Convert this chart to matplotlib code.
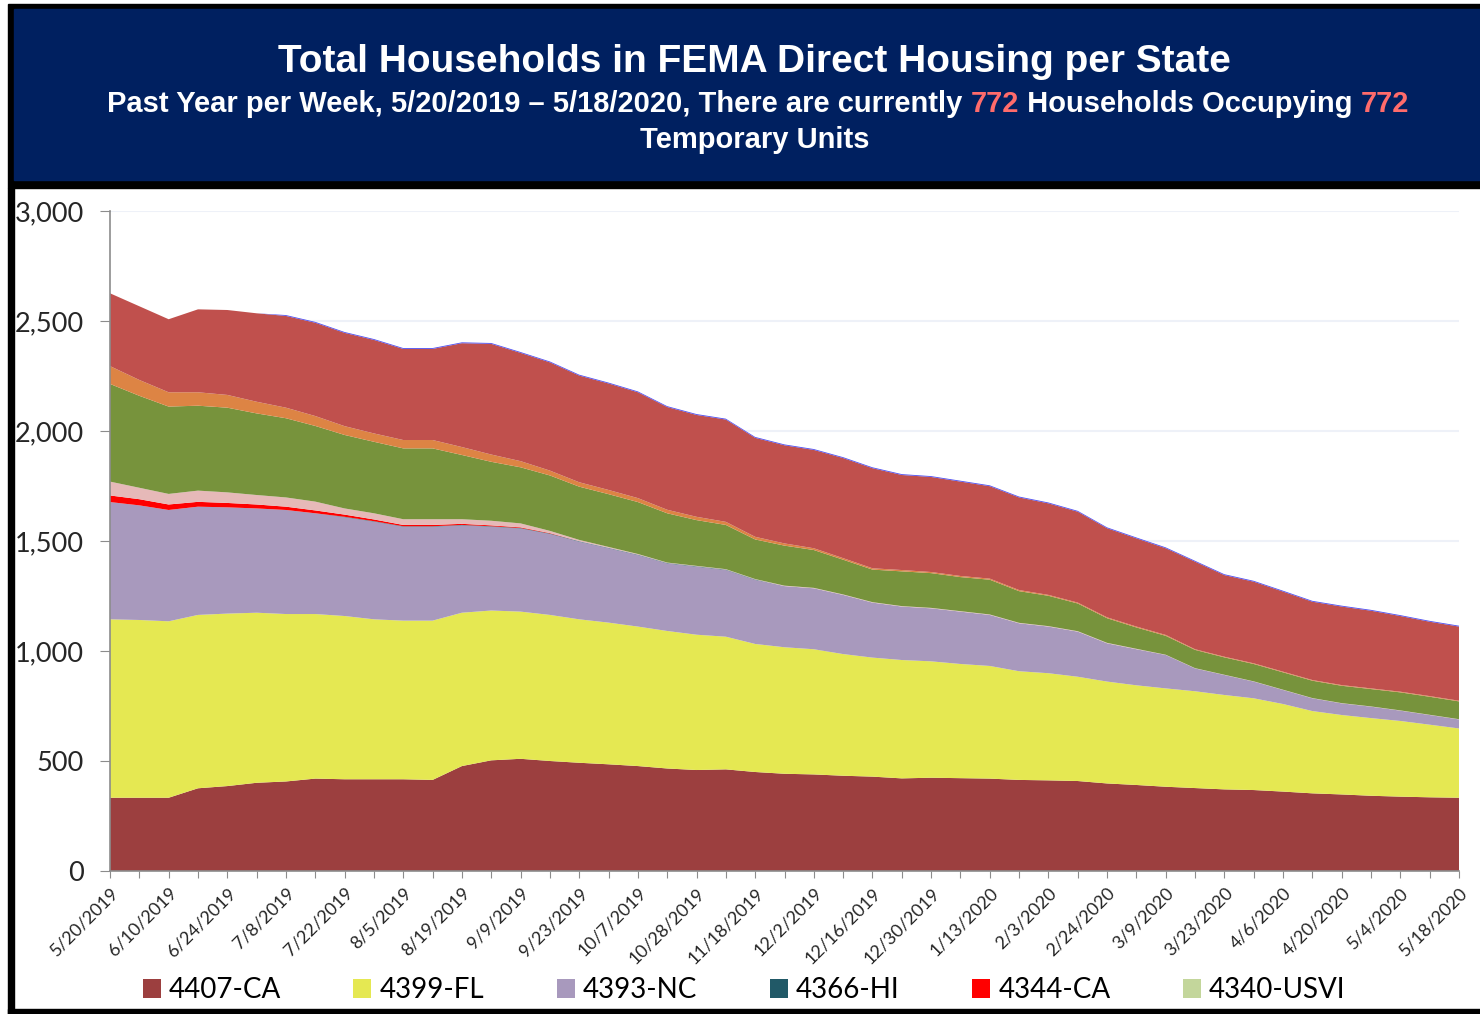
import numpy as np
import matplotlib
matplotlib.use("Agg")
import matplotlib.pyplot as plt
from matplotlib.patches import Rectangle, Patch
from matplotlib.ticker import FuncFormatter

# weekly report dates (one label every other week is shown)
dates = ['5/20/2019', '6/3/2019', '6/10/2019', '6/17/2019', '6/24/2019', '7/1/2019',
         '7/8/2019', '7/15/2019', '7/22/2019', '7/29/2019', '8/5/2019', '8/12/2019',
         '8/19/2019', '9/2/2019', '9/9/2019', '9/16/2019', '9/23/2019', '9/30/2019',
         '10/7/2019', '10/21/2019', '10/28/2019', '11/11/2019', '11/18/2019', '11/25/2019',
         '12/2/2019', '12/9/2019', '12/16/2019', '12/23/2019', '12/30/2019', '1/6/2020',
         '1/13/2020', '1/27/2020', '2/3/2020', '2/17/2020', '2/24/2020', '3/2/2020',
         '3/9/2020', '3/16/2020', '3/23/2020', '3/30/2020', '4/6/2020', '4/13/2020',
         '4/20/2020', '4/27/2020', '5/4/2020', '5/11/2020', '5/18/2020']

ca4407 = [333, 333, 333, 376, 386, 401, 407, 420, 417, 417, 417, 414, 477, 503, 510, 500,
          492, 485, 477, 466, 459, 462, 450, 442, 439, 433, 429, 421, 424, 422, 420, 414,
          412, 409, 398, 391, 383, 377, 371, 368, 361, 353, 348, 342, 338, 335, 333]
fl4399 = [811, 808, 802, 788, 784, 773, 761, 748, 742, 727, 721, 724, 697, 681, 669, 664,
          652, 644, 634, 625, 615, 603, 582, 575, 569, 553, 541, 538, 529, 519, 512, 494,
          487, 474, 463, 453, 447, 440, 429, 417, 398, 374, 361, 353, 344, 330, 315]
nc4393 = [533, 521, 506, 492, 483, 474, 473, 458, 449, 444, 427, 427, 397, 381, 378, 368,
          353, 338, 325, 307, 309, 303, 291, 278, 277, 269, 250, 243, 241, 238, 232, 218,
          212, 205, 174, 164, 152, 104, 91, 76, 64, 58, 53, 52, 47, 44, 41]
hi4366 = [0, 0, 0, 0, 0, 0, 0, 0, 2, 2, 2, 2, 2, 2, 2, 2, 2, 2, 2, 2, 2, 2, 2, 0,
          0, 0, 0, 0, 0, 0, 0, 0, 0, 0, 0, 0, 0, 0, 0, 0, 0, 0, 0, 0, 0, 0, 0]
ca4344 = [30, 28, 25, 22, 20, 18, 15, 13, 10, 8, 6, 6, 5, 4, 3, 2, 0, 0, 0, 0, 0, 0, 0, 0,
          0, 0, 0, 0, 0, 0, 0, 0, 0, 0, 0, 0, 0, 0, 0, 0, 0, 0, 0, 0, 0, 0, 0]
usvi4340 = [0] * 47
# series beyond the visible legend entries
pink_s = [63, 52, 48, 51, 48, 43, 42, 40, 28, 28, 26, 26, 21, 21, 18, 10, 6, 4, 3, 2,
          2, 2, 2, 2, 2, 2, 2, 2, 2, 2, 2, 2, 2, 2, 2, 2, 1, 1, 1, 1, 1, 1, 1, 1, 1, 1, 1]
green_s = [444, 418, 397, 386, 385, 371, 360, 344, 334, 325, 322, 322, 292, 268, 255, 252,
           242, 240, 236, 224, 208, 201, 180, 182, 172, 158, 148, 158, 158, 155, 158, 144,
           138, 126, 112, 97, 86, 83, 79, 79, 79, 79, 79, 79, 82, 82, 81]
orange_s = [81, 72, 65, 61, 58, 53, 48, 45, 40, 38, 38, 38, 36, 33, 28, 22, 20, 19, 18, 16,
            15, 14, 12, 10, 8, 7, 6, 6, 5, 5, 5, 5, 4, 4, 4, 4, 4, 3, 3, 3, 3, 3, 3, 3, 3, 3, 3]
red_s = [331, 335, 332, 377, 386, 402, 417, 424, 424, 425, 414, 414, 472, 503, 492, 492,
         485, 484, 481, 467, 463, 465, 450, 446, 447, 455, 455, 432, 432, 429, 420, 421,
         416, 413, 405, 401, 394, 398, 371, 371, 364, 356, 357, 353, 344, 338, 337]
blue_s = [0] * 6 + [4] * 41

labels = ['4407-CA', '4399-FL', '4393-NC', '4366-HI', '4344-CA', '4340-USVI']
series = [ca4407, fl4399, nc4393, hi4366, ca4344, usvi4340, pink_s, green_s, orange_s, red_s, blue_s]
colors = ['#9C3F3F', '#E5E852', '#A899BD', '#215967', '#FF0000', '#C3D69B',
          '#E6B9B8', '#77933C', '#DD8444', '#C0504D', '#5050F0']

W, H = 1480, 1014
fig = plt.figure(figsize=(W / 100, H / 100), dpi=100)
fig.patch.set_facecolor('white')


def fx(x):
    return x / W


def fy(y):
    return 1 - y / H


# frame + navy header
fig.patches.append(Rectangle((fx(8), fy(188)), fx(1480) - fx(8), fy(4) - fy(188),
                             transform=fig.transFigure, color='black', zorder=0))
fig.patches.append(Rectangle((fx(14), fy(180)), fx(1480) - fx(14), fy(9) - fy(180),
                             transform=fig.transFigure, color='#002060', zorder=1))
fig.patches.append(Rectangle((fx(8), fy(1014)), fx(14) - fx(8), fy(188) - fy(1014),
                             transform=fig.transFigure, color='black', zorder=1))
fig.patches.append(Rectangle((fx(8), fy(1014)), fx(1480) - fx(8), fy(1009) - fy(1014),
                             transform=fig.transFigure, color='black', zorder=1))

hfont = 'Liberation Sans'
fig.text(fx(754), fy(62), 'Total Households in FEMA Direct Housing per State',
         ha='center', va='center', color='white', fontsize=28, fontweight='bold', family=hfont)

renderer = fig.canvas.get_renderer()


def colored_line(pieces, xc, yc, size):
    texts = []
    for s, c in pieces:
        t = fig.text(0, fy(yc), s, ha='left', va='center', color=c, fontsize=size,
                     fontweight='bold', family=hfont)
        texts.append(t)
    widths = [t.get_window_extent(renderer).width for t in texts]
    x = xc - sum(widths) / 2
    for t, w in zip(texts, widths):
        t.set_x(fx(x))
        x += w


hl = '#FF6B6B'
colored_line([('Past Year per Week, 5/20/2019 \u2013 5/18/2020, There are currently ', 'white'),
              ('772', hl), (' Households Occupying ', 'white'), ('772', hl)], 758, 104, 21)
colored_line([('Temporary Units', 'white')], 755, 140, 21)

ax = fig.add_axes([fx(110), fy(871), fx(1459) - fx(110), fy(211) - fy(871)])
x = np.arange(len(dates))
ax.stackplot(x, *series, colors=colors, linewidth=0)

ax.set_xlim(0, len(dates) - 1)
ax.set_ylim(0, 3000)
ax.set_yticks(np.arange(0, 3001, 500))
ax.yaxis.set_major_formatter(FuncFormatter(lambda v, p: f'{int(v):,}'))
ax.grid(axis='y', color='#EEF1F8', linewidth=1.5)
ax.set_axisbelow(True)
for s in ['top', 'right']:
    ax.spines[s].set_visible(False)
for s in ['left', 'bottom']:
    ax.spines[s].set_color('#8C8C8C')
    ax.spines[s].set_linewidth(1.2)

ax.set_xticks(x)
ax.set_xticklabels([d if i % 2 == 0 else '' for i, d in enumerate(dates)],
                   rotation=45, ha='right', rotation_mode='anchor',
                   fontsize=13, family='Lato', color='#262626')
ax.tick_params(axis='x', length=5, color='#8C8C8C', pad=5)
ax.tick_params(axis='y', length=7, color='#8C8C8C', pad=12, labelsize=19.5, labelcolor='#262626')
for t in ax.get_yticklabels():
    t.set_family('Lato')

handles = [Patch(facecolor=c, edgecolor='none') for c in colors[:6]]
fig.legend(handles, labels, loc='center', bbox_to_anchor=(fx(744), fy(990)), ncol=6,
           frameon=False, prop={'family': 'Lato', 'size': 20}, handlelength=0.65,
           handleheight=0.65, handletextpad=0.3, columnspacing=2.6)

fig.savefig('out.png', dpi=100)
